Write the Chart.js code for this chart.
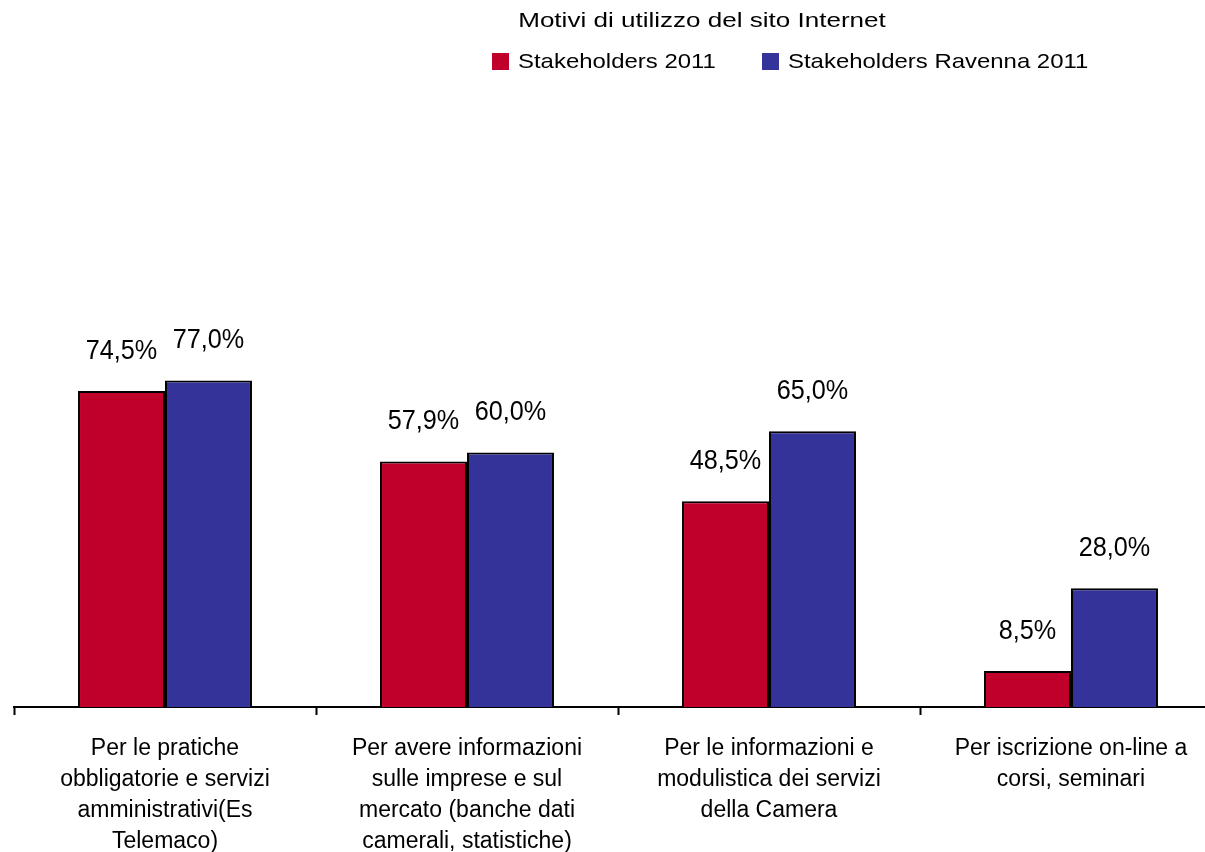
<!DOCTYPE html>
<html>
<head>
<meta charset="utf-8">
<script src="https://cdn.jsdelivr.net/npm/chart.js@4"></script>
<style>
  html, body { margin: 0; padding: 0; background: #fff; overflow: hidden; }
  #wrap { width: 1225px; height: 852px; position: relative; }
</style>
</head>
<body>
<div id="wrap"><canvas id="chart"></canvas></div>
<script>
const chartTitle = 'Motivi di utilizzo del sito Internet';
const categories = [
  ['Per le pratiche', 'obbligatorie e servizi', 'amministrativi(Es', 'Telemaco)'],
  ['Per avere informazioni', 'sulle imprese e sul', 'mercato (banche dati', 'camerali, statistiche)'],
  ['Per le informazioni e', 'modulistica dei servizi', 'della Camera'],
  ['Per iscrizione on-line a', 'corsi, seminari']
];
const seriesNames = ['Stakeholders 2011', 'Stakeholders Ravenna 2011'];
const stakeholders2011 = [74.5, 57.9, 48.5, 8.5];
const stakeholdersRavenna2011 = [77.0, 60.0, 65.0, 28.0];
const seriesColors = ['#C0002A', '#333399'];

const FONT = '"Liberation Sans", Arial, sans-serif';

// text stretched horizontally, the original was drawn that way
function stretchedText(ctx, txt, x, y, sx, align) {
  ctx.save();
  ctx.translate(x, y);
  ctx.scale(sx, 1);
  ctx.textAlign = align;
  ctx.fillText(txt, 0, 0);
  ctx.restore();
}

// value labels like "74,5%" above bars
const valueLabels = {
  id: 'valueLabels',
  afterDatasetsDraw(chart) {
    const ctx = chart.ctx;
    ctx.save();
    ctx.font = '28px ' + FONT;
    ctx.fillStyle = '#000';
    ctx.textBaseline = 'middle';
    chart.data.datasets.forEach((ds, i) => {
      chart.getDatasetMeta(i).data.forEach((bar, j) => {
        const txt = ds.data[j].toFixed(1).replace('.', ',') + '%';
        stretchedText(ctx, txt, bar.x, bar.y - 40, 0.9, 'center');
      });
    });
    ctx.restore();
  }
};

// title + legend, placed as in the original
const header = {
  id: 'header',
  afterDraw(chart) {
    const ctx = chart.ctx;
    ctx.save();
    ctx.fillStyle = '#000';
    ctx.textBaseline = 'middle';
    ctx.font = '21px ' + FONT;
    stretchedText(ctx, chartTitle, 702, 21, 1.24, 'center');
    const xs = [492, 762];
    chart.data.datasets.forEach((ds, i) => {
      ctx.fillStyle = ds.backgroundColor;
      ctx.fillRect(xs[i], 53, 17, 17);
      ctx.fillStyle = '#000';
      stretchedText(ctx, ds.label, xs[i] + 26, 62, 1.14, 'left');
    });
    ctx.restore();
  }
};

new Chart(document.getElementById('chart'), {
  type: 'bar',
  data: {
    labels: categories,
    datasets: [
      {
        label: seriesNames[0],
        data: stakeholders2011,
        backgroundColor: seriesColors[0],
        borderColor: '#000',
        borderWidth: 2,
        borderSkipped: 'bottom'
      },
      {
        label: seriesNames[1],
        data: stakeholdersRavenna2011,
        backgroundColor: seriesColors[1],
        borderColor: '#000',
        borderWidth: 2,
        borderSkipped: 'bottom'
      }
    ]
  },
  plugins: [valueLabels, header],
  options: {
    responsive: true,
    maintainAspectRatio: false,
    animation: false,
    datasets: {
      bar: { categoryPercentage: 0.576, barPercentage: 1.0 }
    },
    layout: { padding: { top: 285, left: 14, right: 3, bottom: 0 } },
    plugins: {
      legend: { display: false },
      title: { display: false },
      tooltip: { enabled: false }
    },
    scales: {
      x: {
        afterFit: (scale) => { scale.height = 145; },
        grid: {
          offset: true,
          drawOnChartArea: false,
          drawTicks: true,
          tickLength: 8,
          tickWidth: 2,
          tickColor: '#000'
        },
        border: { display: true, color: '#000', width: 2 },
        ticks: {
          color: '#000',
          padding: 18,
          maxRotation: 0,
          autoSkip: false,
          font: { family: FONT, size: 23, lineHeight: 31 / 23 }
        }
      },
      y: {
        display: false,
        min: 0,
        max: 99.5
      }
    }
  }
});
</script>
</body>
</html>
